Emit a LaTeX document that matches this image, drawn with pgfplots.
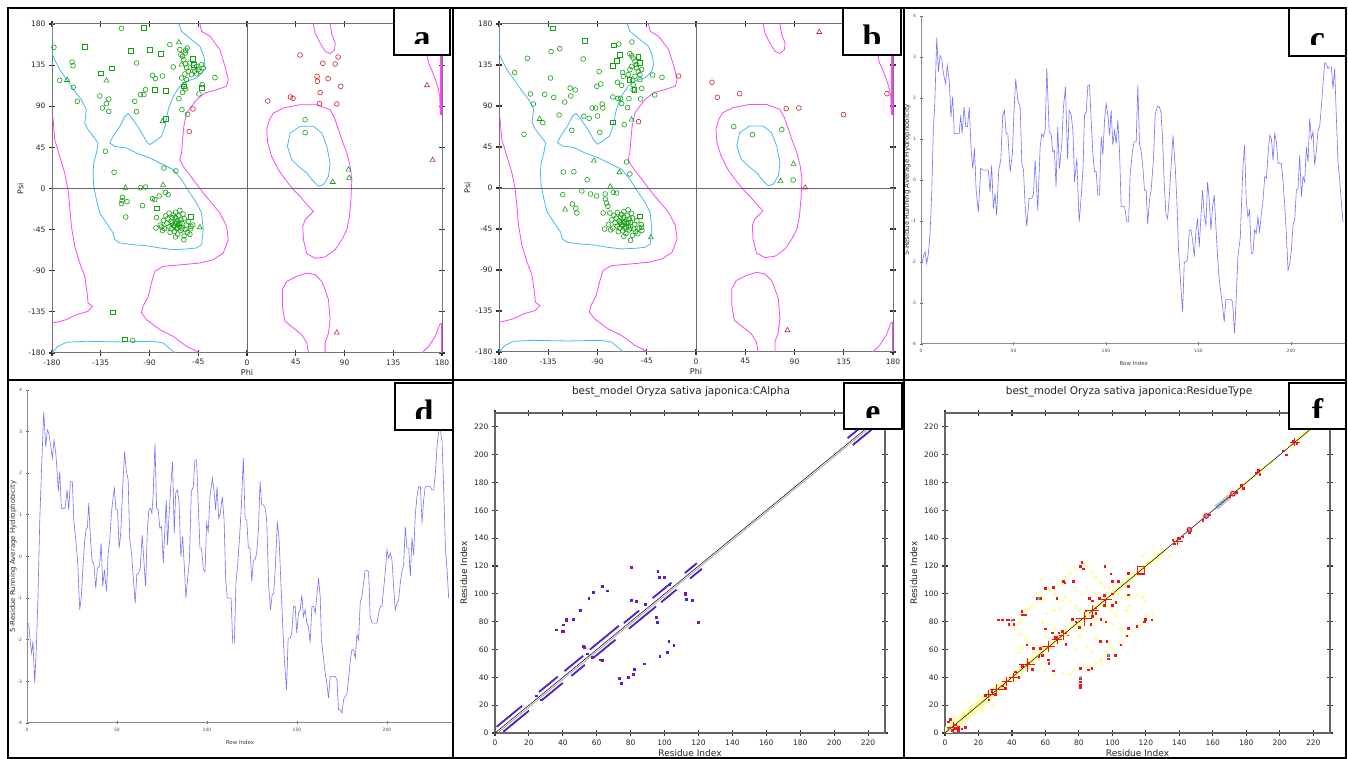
\documentclass[border=0pt]{standalone}
\usepackage{pgfplots}
\pgfplotsset{compat=1.18}
\usepackage{fontspec}
\setmainfont{DejaVu Sans}
\newfontfamily\serifb{Liberation Serif}
\definecolor{rpink}{RGB}{250,70,250}
\definecolor{rcyan}{RGB}{70,185,240}
\definecolor{rgreen}{RGB}{20,160,20}
\definecolor{rred}{RGB}{200,40,40}
\definecolor{hline}{RGB}{115,115,255}
\definecolor{cblue}{RGB}{50,40,240}
\definecolor{cpurp}{RGB}{140,20,140}
\definecolor{fyel}{RGB}{255,255,170}
\definecolor{fred}{RGB}{240,20,20}
\definecolor{fblue}{RGB}{80,160,230}
\pgfplotsset{
 rama/.style={scale only axis, xmin=-180,xmax=180,ymin=-180,ymax=180,
  xtick={-180,-135,...,180}, ytick={-180,-135,...,180},
  tick align=center, major tick length=6pt,
  axis line style={black!55, line width=1pt},
  tick style={black!80, line width=1.1pt},
  /pgf/number format/assume math mode=true,
  ticklabel style={font=\fontsize{7.5}{8}\selectfont, text=black!85},
  xlabel={Phi}, ylabel={Psi},
  label style={font=\fontsize{8}{9}\selectfont, text=black!85},
  xlabel style={yshift=3pt}, ylabel style={yshift=-2pt}},
 hydro/.style={scale only axis, xmin=0, ymin=-4, ymax=4,
  axis x line*=bottom, axis y line*=left,
  xtick={0,50,...,200}, ytick={-4,...,4},
  tick align=center, major tick length=3pt,
  axis line style={black!45, line width=1pt},
  tick style={black!60, line width=0.8pt},
  /pgf/number format/assume math mode=true,
  ticklabel style={font=\fontsize{4.5}{5}\selectfont, text=black!70},
  xlabel={Row Index}, ylabel={5-Residue Running Average Hydrophobicity},
  xlabel style={font=\fontsize{5.5}{6}\selectfont, text=black!75, yshift=-2pt},
  ylabel style={font=\fontsize{7}{8}\selectfont, text=black!80, yshift=-6pt}},
 cmap/.style={scale only axis, xmin=0,xmax=230,ymin=0,ymax=230,
  xtick={0,20,...,220}, ytick={0,20,...,220},
  tick align=center, major tick length=6pt,
  axis line style={black!60, line width=1.2pt},
  tick style={black!80, line width=1.1pt},
  /pgf/number format/assume math mode=true,
  ticklabel style={font=\fontsize{7.5}{8}\selectfont, text=black!85},
  xlabel={Residue Index}, ylabel={Residue Index},
  label style={font=\fontsize{9}{10}\selectfont, text=black!85},
  xlabel style={yshift=2pt}},
 gc/.style={only marks, mark=o, mark size=2.4pt, rgreen, mark options={line width=0.6pt}},
 gs/.style={only marks, mark=square, mark size=2.4pt, rgreen, mark options={line width=0.6pt}},
 gt/.style={only marks, mark=triangle, mark size=2.9pt, rgreen, mark options={line width=0.6pt}},
 rc/.style={only marks, mark=o, mark size=2.4pt, rred, mark options={line width=0.6pt}},
 rt/.style={only marks, mark=triangle, mark size=2.9pt, rred, mark options={line width=0.6pt}},
}
\newcommand\ramabg{%
 \addplot[rcyan, line width=0.8pt] coordinates {(-180,180) (-180,148.3) (-177.5,141) (-172.9,130) (-165.2,117.3) (-159,106.3) (-152.9,97.2) (-148.3,86.3) (-149.8,71.7) (-146.7,64.4) (-142.1,57.1) (-137.5,49.8) (-139,38.8) (-141.5,27.9) (-142.1,17) (-141.5,2.4) (-139,-12.2) (-135.9,-26.8) (-129.8,-37.7) (-123.6,-48.7) (-122.1,-56) (-117.4,-59.6) (-105.1,-61.5) (-92.8,-62.6) (-80.4,-65.1) (-68.1,-66.9) (-55.8,-66.2) (-46.5,-65.1) (-41.9,-61.5) (-40.4,-45) (-41.9,-26.8) (-46.5,-15.9) (-52.7,-4.9) (-60.4,9.7) (-68.1,20.6) (-77.4,26.1) (-89.7,33.4) (-102,38.8) (-111.3,44.3) (-122.1,46.1) (-126.7,49.8) (-123.6,57.1) (-117.4,68) (-112.8,79) (-109.7,81.9) (-105.1,75.3) (-98.9,64.4) (-92.8,51.6) (-89.7,48) (-85.1,51.6) (-78.9,57.1) (-75.8,68) (-72.7,86.3) (-68.1,100.9) (-62,111.8) (-55.8,117.3) (-46.5,120.9) (-40.4,128.2) (-38.8,135.5) (-39.8,144.6) (-43.5,155.6) (-51.2,162.9) (-60.4,172) (-62.9,180)};
 \addplot[rcyan, line width=0.8pt] coordinates {(-180,-180) (-174.5,-172.7) (-166.7,-168.3) (-148.3,-167.2) (-117.4,-167.9) (-86.6,-167.2) (-77.4,-169.1) (-68.1,-178.2) (-66.6,-180)};
 \addplot[rcyan, line width=0.8pt] coordinates {(49,68) (61.3,68) (69,60.7) (73.7,46.1) (76.7,27.9) (75.2,13.3) (70.6,4.2) (66,2.4) (61.3,7.8) (55.2,17) (47.5,24.3) (41.3,31.6) (37.3,46.1) (39.8,60.7) (49,68)};
 \addplot[rpink, line width=0.8pt] coordinates {(-43.5,180) (-41.9,172) (-34.2,166.5) (-25,151.9) (-20.3,133.7) (-17.3,119.1) (-18.8,111.8) (-28,108.1) (-38.8,104.5) (-46.5,97.2) (-51.2,89.9) (-55.8,82.6) (-58.3,68) (-59.5,53.4) (-60.4,38.8) (-62,31.6) (-58.9,24.3) (-49.6,9.7) (-40.4,-4.9) (-32.7,-15.9) (-25,-26.8) (-18.8,-41.4) (-17.3,-56) (-21.9,-70.6) (-31.1,-77.9) (-43.5,-81.5) (-58.9,-83.3) (-77.4,-85.2) (-85.1,-90.6) (-88.2,-103.4) (-91.2,-118) (-95.9,-128.9) (-97.4,-136.2) (-92.8,-143.5) (-80.4,-154.5) (-68.1,-161.8) (-55.8,-172.7) (-43.5,-180)};
 \addplot[rpink, line width=0.8pt] coordinates {(-179.1,77.1) (-177.5,53.4) (-172.9,35.2) (-168.3,17) (-165.2,-1.3) (-163.7,-19.5) (-162.1,-41.4) (-159,-63.3) (-154.4,-81.5) (-149.8,-96.1) (-147.6,-114.3) (-146.7,-125.3) (-142.7,-128.9) (-146.7,-134.4) (-157.5,-138.1) (-166.7,-143.5) (-176,-146.4) (-180,-147.2)};
 \addplot[rpink, line width=0.8pt] coordinates {(61.3,180) (62.9,170.2) (67.5,159.2) (72.1,150.1) (76.7,147.5) (80.8,151.9) (81.4,159.2) (78.3,168.3) (76.7,180)};
 \addplot[rpink, line width=0.8pt] coordinates {(24.4,82.6) (33.6,88.1) (49,91.7) (64.4,91.7) (76.7,86.3) (80.8,77.1) (84.5,64.4) (87.5,53.4) (92.2,38.8) (95.2,24.3) (96.8,9.7) (95.9,-12.2) (94.6,-30.5) (92.2,-45) (87.5,-56) (81.4,-66.9) (72.1,-74.9) (62.9,-76.4) (55.2,-71.3) (52.1,-56) (51.5,-41.4) (53.6,-34.1) (61.3,-25) (56.7,-19.5) (49,-8.6) (42.8,-1.3) (36.7,7.8) (29,20.6) (22.8,35.2) (19.1,49.8) (18.2,64.4) (20.7,75.3) (24.4,82.6)};
 \addplot[rpink, line width=0.8pt] coordinates {(56.7,-180) (55.2,-169.1) (50.5,-159.9) (42.8,-152.6) (35.1,-145.3) (32.7,-128.9) (32.7,-110.7) (36.7,-101.6) (45.9,-96.1) (55.2,-92.5) (62.9,-94.3) (69,-101.6) (72.1,-110.7) (75.2,-121.6) (76.7,-143.5) (75.2,-158.1) (72.1,-169.1) (72.1,-180)};
 \addplot[rpink, line width=0.8pt] coordinates {(165.5,148.3) (167.7,137.3) (172.3,124.6) (176,111.8) (177.9,100.9) (178.5,80.8)};
 \addplot[rpink, line width=1.6pt] coordinates {(179.3,148) (179.3,80)};
 \addplot[rpink, line width=0.8pt] coordinates {(161.5,-180) (167.7,-172.7) (173.8,-161.8) (177.8,-149) (179.1,-147.2)};
 \addplot[rpink, line width=1.6pt] coordinates {(179.4,-147) (179.4,-180)};
 \addplot[black!60, line width=0.9pt] coordinates {(0,-180) (0,180)};
 \addplot[black!60, line width=0.9pt] coordinates {(-180,0) (180,0)};
}
\newcommand\alphaclust{%
 \addplot[gc] coordinates {(-66,-38) (-64,-35) (-68,-40) (-62,-42) (-70,-36) (-60,-38) (-65,-44) (-72,-42) (-58,-33) (-63,-30) (-67,-47) (-61,-46) (-69,-32) (-74,-38) (-56,-40) (-64,-50) (-71,-48) (-59,-28) (-66,-26) (-76,-44) (-54,-36) (-62,-38) (-67,-41) (-64,-43) (-70,-44) (-57,-45) (-73,-33) (-68,-29) (-61,-34) (-65,-37) (-63,-39) (-69,-38) (-66,-32) (-60,-44) (-77,-35) (-78,-46) (-55,-48) (-52,-44) (-80,-40) (-72,-27) (-58,-52) (-66,-53) (-62,-24) (-75,-30) (-50,-40)};
}
% box: x1 y1 x2 y2 letter  (baseline at y1+6pt, lower part hidden below y1+11pt)
\newcommand\lettbox[5]{%
 \fill[white] (#1pt,#2pt) rectangle (#3pt,#4pt);
 \begin{scope}
 \clip (#1pt,#2pt+11pt) rectangle (#3pt,#4pt);
 \node[anchor=base, font=\serifb\bfseries\fontsize{34}{34}\selectfont, inner sep=0pt] at ({(#1+#3)/2*1pt}, {#2pt+6pt}) {#5};
 \end{scope}
 \draw[black, line width=1.6pt] (#1pt,#2pt) rectangle (#3pt,#4pt);
}
\begin{document}
\begin{tikzpicture}
\useasboundingbox (0,0) rectangle (1348pt,759pt);
\clip (0,0) rectangle (1348pt,759pt);
\fill[white] (0,0) rectangle (1348pt,759pt);

% ---------------- panel a
\begin{axis}[rama, at={(52pt,406pt)}, anchor=south west, width=390pt, height=329pt]
\ramabg
\addplot[gc] coordinates {(-178.2,154.5) (-115.9,175.3) (-71.2,157.4) (-56.7,151.2) (-161.5,138.4) (-160.6,134.4) (-102.0,137.3) (-172.9,118.4) (-160.3,110.7) (-156.6,95.4) (-135.9,101.2) (-127.6,97.9) (-129.8,92.8) (-133.5,88.1) (-127.6,84.4) (-103.6,95.4) (-102.0,84.1) (-93.7,108.1) (-98.3,102.7) (-95.2,102.7) (-87.2,123.8) (-84.5,120.2) (-78.0,123.1) (-68.1,133.0) (-62.9,98.3) (-60.1,86.3) (-54.9,81.2) (-44.4,103.4) (-41.3,113.6) (-41.9,135.5) (-40.4,131.8) (-29.6,121.3) (-130.7,40.7) (-122.7,17.7) (-76.8,22.4) (-65.7,19.2) (-98.3,0.9) (-93.7,1.6) (-75.2,-4.2) (-72.7,-6.7) (-115.0,-9.7) (-115.3,-13.3) (-110.7,-14.4) (-115.9,-16.6) (-96.5,-18.8) (-87.2,-11.1) (-85.1,-12.2) (-81.1,-8.2) (-111.9,-31.2) (-83.5,-31.9) (-84.1,-43.2) (-78.9,-42.1) (-58.3,-56.0) (-52.7,-50.1) (-51.8,-41.4) (53.6,75.3) (53.6,61.1) (-105.4,-166.1)
 (-61.0,146.4) (-59.5,144.6) (-58.3,140.9) (-56.7,136.6) (-55.8,131.9) (-54.2,128.2) (-52.7,137.3) (-49.6,131.9) (-48.1,128.2) (-46.5,133.7) (-45.0,130.0) (-51.2,124.6) (-55.8,119.1) (-58.0,113.6) (-56.7,108.9) (-59.5,105.2) (-57.3,125.3) (-60.4,120.9) (-46.5,125.6) (-43.5,128.2) (-57.0,148.3) (-62.0,151.9) (-55.2,153.7)};
\alphaclust
\addplot[gs] coordinates {(-94.9,175.6) (-149.8,155.2) (-107.3,150.5) (-90.0,151.6) (-79.5,147.5) (-124.5,131.5) (-135.3,126.0) (-84.8,107.8) (-75.2,106.7) (-74.9,76.4) (-50.2,141.7) (-49.3,135.5) (-41.9,110.3) (-58.3,111.8) (-83.5,-21.7) (-51.8,-30.8) (-124.2,-135.5) (-112.8,-165.0)};
\addplot[gt] coordinates {(-62.9,159.9) (-129.8,118.0) (-166.1,118.7) (-78.0,73.5) (-112.2,0.8) (-77.4,3.9) (-43.5,-42.5) (93.7,20.6) (94.3,11.5) (79.2,7.1) (-60.4,135.5)};
\addplot[rc] coordinates {(49.0,146.1) (84.1,143.9) (70.0,137.0) (81.4,136.2) (64.7,122.7) (65.0,117.3) (74.9,120.2) (67.5,104.9) (86.6,111.8) (19.1,95.7) (40.1,100.1) (42.5,98.7) (66.9,92.8) (82.9,92.5) (-49.9,87.0) (-53.3,62.2)};
\addplot[rt] coordinates {(166.1,112.9) (171.4,31.2) (82.9,-157.8)};
\end{axis}

% ---------------- panel b
\begin{axis}[rama, at={(499pt,407pt)}, anchor=south west, width=394pt, height=328pt]
\ramabg
\addplot[gc] coordinates {(-165.7,126.6) (-154.1,142.3) (-151.3,103.2) (-148.6,92.2) (-157.1,58.9) (-132.4,149.6) (-124.5,152.9) (-133.0,120.7) (-138.2,102.8) (-130.0,99.5) (-119.9,94.4) (-115.0,109.7) (-114.4,101.0) (-110.4,107.6) (-103.1,141.6) (-102.5,78.7) (-97.6,76.5) (-94.9,87.8) (-91.8,87.8) (-90.6,111.6) (-87.0,114.1) (-88.5,127.7) (-85.7,92.2) (-85.1,87.8) (-90.0,79.0) (-87.9,61.1) (-125.1,80.1) (-113.5,63.3) (-140.0,71.7) (-70.5,158.0) (-58.6,160.2) (-76.0,99.9) (-71.4,98.4) (-68.9,98.4) (-71.7,116.0) (-67.1,126.9) (-66.5,122.6) (-68.0,112.7) (-68.0,92.6) (-62.5,88.2) (-61.3,98.1) (-65.6,69.5) (-57.4,107.9) (-49.7,109.4) (-50.6,97.7) (-37.8,102.1) (-39.6,124.0) (-31.1,121.5) (-63.5,28.5) (-60.4,15.4) (-121.1,17.6) (-111.6,17.9) (-99.5,9.1) (-104.3,-3.3) (-96.4,-6.6) (-90.9,-8.8) (-83.0,-6.6) (-75.6,-4.7) (-72.6,-5.5) (-121.7,-7.3) (-112.9,-17.5) (-109.8,-22.3) (-108.9,-27.4) (-82.7,-12.1) (-81.8,-16.5) (-80.5,-20.1) (-84.8,-27.4) (-78.7,-27.4) (-83.6,-45.0) (-59.8,-57.4) (-53.1,-50.1) (-49.7,-43.2) (-49.4,-46.5) (34.5,67.3) (51.6,58.5) (78.4,64.0) (88.8,8.8)
 (-60.4,147.4) (-58.9,145.2) (-57.4,142.7) (-55.8,139.0) (-58.9,133.5) (-54.3,131.7) (-52.8,128.1) (-51.3,124.4) (-55.8,122.6) (-57.9,118.2) (-49.7,129.9) (-54.3,135.4) (-60.4,129.9) (-61.9,124.4) (-51.3,118.9) (-57.4,113.4)};
\alphaclust
\addplot[gs] coordinates {(-130.6,175.2) (-101.6,161.7) (-75.0,156.6) (-69.3,146.3) (-72.6,139.7) (-75.7,133.9) (-61.0,118.9) (-52.8,143.8) (-51.3,137.2) (-76.3,72.1) (-51.6,-31.1) (-56.4,107.9)};
\addplot[gt] coordinates {(-142.8,75.7) (-93.3,30.0) (-69.9,17.2) (-58.9,75.0) (-78.4,1.5) (-119.6,-23.8) (-41.2,-54.2) (77.2,7.7) (89.1,26.4)};
\addplot[rc] coordinates {(-15.9,122.9) (14.6,116.0) (19.5,99.5) (39.9,103.5) (82.4,87.1) (93.9,87.8) (134.8,80.5) (174.5,103.5) (-52.5,72.8)};
\addplot[rt] coordinates {(112.6,171.2) (99.8,0.4) (83.6,-156.2)};
\end{axis}

% ---------------- panel c
\begin{axis}[hydro, at={(921pt,415pt)}, anchor=south west, width=425.5pt, height=328pt, xmax=230]
\addplot[hline, line width=0.6pt] table {
0.4 -2.04
1.3 -1.87
2.2 -1.75
3.1 -2.04
4.0 -1.79
4.9 -1.30
5.8 -0.33
6.7 1.30
7.4 1.78
8.5 3.47
9.4 2.64
10.3 3.04
11.2 2.96
12.1 2.60
13.3 2.35
14.2 2.80
15.3 2.39
16.2 1.54
17.1 2.03
18.0 1.13
19.3 1.13
20.6 1.13
21.5 1.58
22.2 1.13
23.3 1.78
24.2 1.30
25.1 1.30
26.1 1.77
27.1 0.73
28.0 0.28
28.9 0.77
29.8 -0.25
31.0 -0.78
32.3 0.28
33.4 0.24
34.6 0.24
36.4 0.24
37.3 -0.29
38.2 0.36
39.1 -0.70
40.0 -0.33
40.9 -0.86
42.0 0.24
43.1 0.48
44.2 1.58
45.1 1.70
46.0 1.13
46.9 1.13
48.2 0.20
49.4 0.65
50.3 1.70
51.2 2.47
52.3 1.95
53.6 1.78
54.5 0.40
55.4 0.24
56.3 -0.65
57.2 -1.13
58.4 -0.45
59.9 -0.45
60.8 -0.33
61.7 0.48
63.1 -0.74
64.4 0.81
65.3 1.13
66.2 1.05
67.1 1.21
68.0 2.72
69.3 1.17
70.3 1.13
71.2 0.69
72.1 0.73
73.0 -0.17
73.9 1.30
74.8 0.28
76.1 0.89
77.0 1.78
78.1 2.27
79.2 0.52
80.1 1.70
81.2 1.58
82.1 1.21
83.0 -0.05
84.2 0.52
85.5 -1.02
86.6 -0.41
87.6 0.32
88.4 1.58
89.3 1.66
90.2 2.31
91.1 2.31
92.0 1.42
92.9 0.65
93.8 0.20
94.7 0.20
95.6 -0.37
96.5 -0.37
97.4 1.05
98.3 0.61
99.2 1.46
100.1 1.86
101.0 1.58
101.9 1.09
102.8 1.70
103.7 0.85
104.6 1.21
105.5 0.89
106.4 1.46
107.3 0.69
108.2 -0.65
109.1 -0.65
110.0 -0.65
111.3 -1.02
112.2 -1.02
113.1 0.16
114.3 0.69
115.2 0.93
116.3 0.93
117.2 2.31
118.1 0.89
119.0 0.69
119.9 0.32
120.8 -0.25
121.7 -0.25
122.5 -1.08
123.5 -0.49
124.4 -0.25
125.7 0.56
126.6 1.62
127.9 1.80
128.8 1.78
129.7 1.66
130.6 0.97
131.5 -0.13
132.4 -0.82
133.3 -0.94
134.2 -0.41
135.1 0.28
136.2 1.09
137.4 0.32
138.3 -0.49
139.2 -1.71
140.7 -2.77
141.4 -3.21
142.3 -2.00
143.2 -2.00
144.1 -1.94
145.0 -1.22
145.9 -1.22
146.8 -1.47
147.7 -1.87
148.6 -1.26
149.5 -0.94
150.4 -1.63
151.3 -0.90
152.2 -0.25
153.1 -0.86
154.0 -1.10
154.9 -0.05
155.8 -0.49
156.7 -1.22
157.6 -0.65
158.5 -0.37
159.4 -1.14
160.3 -1.87
161.2 -2.44
162.1 -2.77
163.0 -3.09
163.9 -3.46
164.8 -2.91
166.3 -2.91
167.5 -2.91
168.4 -2.97
169.5 -3.74
170.4 -2.85
171.3 -1.87
172.6 -1.39
174.0 0.32
174.9 0.85
175.8 -0.49
176.7 -0.90
177.6 -0.74
178.5 -1.79
179.4 -1.79
180.3 -1.22
181.2 -1.30
182.1 -0.90
183.0 -1.26
183.9 -0.86
184.8 -0.53
185.8 0.08
186.7 0.04
187.6 0.65
188.5 1.09
189.4 1.01
190.3 0.48
191.2 1.13
192.1 0.93
193.0 0.40
193.9 0.42
194.8 0.40
195.7 -0.05
196.6 -0.61
197.5 -1.35
198.4 -2.20
199.3 -2.04
200.2 -1.71
201.1 -1.10
202.0 -0.98
202.9 -0.25
203.8 -0.21
204.7 0.61
205.6 -0.41
206.5 0.08
207.4 -0.05
208.3 0.81
209.2 0.44
210.1 1.50
211.0 1.01
211.9 1.17
212.8 0.36
213.7 0.73
214.6 1.21
215.5 1.30
216.4 1.78
217.3 2.35
218.2 2.86
219.1 2.84
220.0 2.72
220.9 2.76
221.8 2.76
222.7 2.23
223.6 2.72
224.5 1.54
225.4 0.44
226.3 0.00
227.2 -0.53
228.1 -1.02
};
\end{axis}

% ---------------- panel d
\begin{axis}[hydro, at={(27pt,36pt)}, anchor=south west, width=426pt, height=333pt, xmax=236.7]
\addplot[hline, line width=0.6pt] table {
0.9 -1.60
1.9 -2.08
2.6 -2.32
3.3 -2.04
4.3 -3.04
5.2 -2.16
6.1 -0.96
7.1 0.88
8.0 2.00
9.3 3.48
10.4 2.64
11.3 3.04
12.2 2.96
13.2 2.64
14.1 2.36
15.0 2.80
16.0 2.48
16.9 1.92
17.4 1.56
18.2 2.04
19.1 1.16
20.0 1.16
21.2 1.16
22.3 1.60
23.2 1.12
24.1 1.80
25.2 1.80
26.0 0.88
27.1 0.40
28.2 -0.16
29.3 -1.28
30.2 -0.96
31.2 -0.16
32.1 0.40
32.8 0.64
33.6 0.72
34.3 1.28
35.3 0.40
36.2 -0.12
37.1 -0.16
38.2 -0.76
39.1 -0.28
40.3 -0.24
41.2 0.32
42.1 -0.72
43.0 -0.32
44.2 -0.84
45.1 0.08
46.0 0.40
46.9 1.04
47.9 1.44
48.6 1.64
49.4 1.12
50.3 1.12
51.2 0.20
52.1 0.56
53.1 1.60
54.2 2.52
55.1 2.08
56.2 1.84
57.1 0.40
58.1 0.08
59.0 -0.48
60.1 -1.12
61.0 -0.44
62.0 -0.40
62.9 -0.28
64.0 0.52
64.9 -0.08
65.9 -0.72
66.8 0.56
67.7 1.12
68.6 1.16
69.4 1.04
70.1 1.48
71.1 2.72
72.0 1.16
72.9 1.12
73.8 0.68
74.8 0.72
75.7 -0.16
76.6 0.64
77.4 1.36
78.1 0.28
79.0 1.04
80.0 1.76
80.9 2.28
81.8 0.56
82.6 1.52
83.5 1.60
84.4 1.36
85.5 0.00
86.5 0.48
87.4 -0.24
88.3 -1.00
89.2 -0.56
90.2 -0.12
91.3 1.56
92.4 1.68
93.3 2.32
94.2 2.32
95.2 1.20
96.1 0.20
97.0 0.20
98.0 -0.32
98.9 -0.36
99.8 0.80
100.7 0.60
101.7 1.44
103.0 1.88
103.9 1.60
104.8 1.12
105.6 1.68
106.5 0.92
107.4 1.04
108.5 1.44
109.5 0.88
110.4 -0.56
111.3 -1.00
112.4 -1.00
113.4 -1.00
114.3 -2.08
115.2 -2.08
116.1 -0.64
117.1 -0.16
118.0 0.40
118.9 1.04
120.2 2.36
121.2 0.88
122.1 0.88
123.0 0.20
123.9 0.20
124.9 -0.60
125.8 -0.08
126.7 -0.08
127.6 0.08
128.6 0.64
129.5 1.80
130.4 1.24
131.4 1.24
132.3 1.16
133.2 0.88
134.3 -0.72
135.3 -1.28
136.2 -0.92
137.1 -0.88
138.0 -0.24
139.1 0.84
140.1 0.40
141.0 -0.56
142.1 -1.68
143.0 -2.48
144.2 -3.20
145.1 -1.96
146.2 -1.96
147.1 -1.84
148.1 -1.20
149.0 -1.20
149.9 -1.84
150.8 -1.36
151.8 -1.28
152.7 -0.92
153.6 -1.44
154.5 -1.28
155.5 -1.60
156.4 -1.68
157.3 -2.08
158.3 -1.20
159.2 -1.20
160.1 -1.36
161.0 -0.96
162.0 -0.52
162.9 -0.96
163.6 -2.00
164.7 -2.44
165.7 -2.80
166.6 -3.04
167.5 -3.40
168.5 -2.88
169.9 -2.88
171.2 -2.88
172.2 -2.96
173.1 -3.68
174.0 -3.68
175.0 -3.76
175.9 -3.44
176.8 -3.36
177.7 -3.32
178.7 -2.92
179.6 -2.52
180.5 -2.24
181.4 -2.24
182.4 -2.44
183.3 -1.88
184.2 -2.00
185.2 -1.08
186.1 -0.96
187.0 -0.64
187.9 -0.34
188.9 -0.34
189.8 -0.36
190.7 -1.44
191.7 -1.60
192.6 -1.60
193.5 -1.60
194.4 -1.60
195.4 -1.36
196.3 -1.20
197.2 -1.20
198.1 -0.80
199.1 -0.36
200.0 0.16
200.9 -0.04
201.9 0.08
202.8 -0.08
203.7 -0.72
204.6 -1.28
205.6 -1.12
206.5 -1.04
207.4 -0.64
208.3 -0.36
209.3 -0.20
210.2 0.72
211.1 0.20
212.1 0.20
213.0 -0.48
213.9 0.44
214.8 0.04
215.8 1.04
216.7 1.44
217.6 1.68
218.6 1.68
219.5 0.80
220.4 1.36
221.3 1.68
222.3 1.68
224.1 1.68
225.0 1.60
226.0 1.60
226.9 2.00
227.8 2.64
228.8 3.04
229.7 3.04
230.6 2.76
231.5 1.68
232.5 0.16
233.4 -0.32
234.3 -1.00
};
\end{axis}

% ---------------- panel e
\begin{axis}[cmap, at={(495pt,26pt)}, anchor=south west, width=390pt, height=320pt, unbounded coords=jump]
\addplot[black!55, line width=0.4pt] coordinates {(1.5,0) (230,228.5)};
\addplot[black, line width=0.5pt] coordinates {(0,0) (230,230)};
\addplot[cblue, line width=1.8pt] coordinates {(1,4.5) (16,19.5) (nan,nan) (26,29.5) (37,40.5) (nan,nan) (41,44.5) (52,55.5) (nan,nan) (56,60) (73,77) (nan,nan) (76,79) (85,88) (nan,nan) (93,97) (104,108) (nan,nan) (112,115) (119,122) (nan,nan) (208,212) (220,224)};
\addplot[cblue, line width=1.8pt] coordinates {(5,1) (20,16) (nan,nan) (28,24) (40,36) (nan,nan) (45,41) (53,49) (nan,nan) (58,54) (71,67) (nan,nan) (79,75) (95,91) (nan,nan) (98,94) (107,103) (nan,nan) (115,111) (122,118) (nan,nan) (211,207) (223,219)};
\addplot[cpurp, line width=1.1pt, dash pattern=on 1.6pt off 1.4pt] coordinates {(1,4.5) (16,19.5) (nan,nan) (26,29.5) (37,40.5) (nan,nan) (41,44.5) (52,55.5) (nan,nan) (56,60) (73,77) (nan,nan) (76,79) (85,88) (nan,nan) (93,97) (104,108) (nan,nan) (112,115) (119,122) (nan,nan) (208,212) (220,224)};
\addplot[cpurp, line width=1.1pt, dash pattern=on 1.6pt off 1.4pt] coordinates {(5,1) (20,16) (nan,nan) (28,24) (40,36) (nan,nan) (45,41) (53,49) (nan,nan) (58,54) (71,67) (nan,nan) (79,75) (95,91) (nan,nan) (98,94) (107,103) (nan,nan) (115,111) (122,118) (nan,nan) (211,207) (223,219)};
\addplot[only marks, mark=square*, mark size=0.9pt, cblue] coordinates {(39.4,73.1) (42.0,82.0) (46.3,82.0) (40.0,77.9) (50.2,88.2) (55.2,97.1) (58.1,101.4) (63.0,105.4) (66.4,102.3) (54.2,57.0) (61.7,52.7) (80.4,95.4) (95.9,116.2) (96.9,112.1) (102.8,106.6) (112.3,99.9) (112.7,96.3) (116.4,95.4) (95.5,79.8) (74.3,35.9) (78.4,40.0) (82.3,46.0) (88.2,49.8) (97.1,55.1) (101.4,58.0) (102.4,65.9) (105.4,63.0) (88.8,92.7) (24.2,26.8) (27.2,24.0)};
\addplot[only marks, mark=square*, mark size=0.9pt, cpurp] coordinates {(36.0,74.3) (40.4,73.1) (42.0,81.0) (52.2,62.3) (52.8,61.8) (57.1,54.4) (63.0,52.2) (80.4,119.1) (83.3,94.7) (99.9,112.1) (94.9,83.2) (119.6,79.8) (73.3,39.5) (81.3,42.2) (112.3,100.5)};
\end{axis}

% ---------------- panel f
\begin{axis}[cmap, at={(945pt,26pt)}, anchor=south west, width=385pt, height=320pt, unbounded coords=jump]
\addplot[fyel, line width=9pt] coordinates {(0,0) (35,35)};
\addplot[fyel, line width=6pt] coordinates {(35,35) (72,72)};
\addplot[fyel, line width=5pt] coordinates {(72,72) (132,132)};
\addplot[fyel, line width=3pt] coordinates {(175,175) (196,196)};
\addplot[fyel, line width=4pt] coordinates {(205,205) (228,228)};
\addplot[only marks, mark=square*, mark size=1.1pt, fyel] coordinates {(45,85) (48,88) (50,90) (52,92) (55,95) (55,100) (58,98) (60,96) (62,103) (65,100) (67,107) (70,108) (72,112) (75,115) (78,118) (83,122) (85,120) (88,116) (90,112) (93,108) (95,105) (98,104) (100,102) (103,100) (106,98) (110,98) (114,100) (118,98) (120,95) (45,80) (40,82) (38,78) (42,75) (45,72) (48,68) (50,65) (55,63) (46,62) (44,58) (52,58) (57,50) (60,45) (65,42) (70,43) (75,42) (78,45) (85,48) (90,50) (93,52) (96,58) (100,60) (98,64) (104,66) (108,70) (112,74) (116,78) (120,84) (124,86) (105,75) (100,78) (95,82) (90,82) (88,78) (85,85) (80,88) (78,92) (75,95) (72,98) (70,95) (68,90) (65,88) (60,86) (58,80) (62,78) (92,96) (96,92) (98,88) (102,85) (108,88) (110,92) (80,70) (82,75) (90,68) (85,62) (60,70) (65,75) (72,70) (78,60) (88,58) (58,110) (85,104) (95,98) (90,100) (82,100) (78,102) (14,22) (20,28) (22,16) (28,20) (118,128) (124,132) (134,128)};
\addplot[gray!45, line width=5pt] coordinates {(162,162) (170,170)};
\addplot[black, line width=0.5pt] coordinates {(0,0) (230,230)};
\addplot[fred, line width=0.9pt] coordinates {(78,82) (88,82) (nan,nan) (83,77) (83,87) (nan,nan) (84,88) (92,88) (nan,nan) (88,84) (88,92) (nan,nan) (92,96) (100,96) (nan,nan) (96,92) (96,100) (nan,nan) (58,62) (66,62) (nan,nan) (62,58) (62,66) (nan,nan) (64,67) (70,67) (nan,nan) (67,64) (67,70) (nan,nan) (68,70) (74,70) (nan,nan) (71,67) (71,73) (nan,nan) (44,49) (54,49) (nan,nan) (49,44) (49,54) (nan,nan) (38,40) (44,40) (nan,nan) (41,37) (41,43) (nan,nan) (34,37) (40,37) (nan,nan) (37,34) (37,40) (nan,nan) (27,31) (35,31) (nan,nan) (31,27) (31,35) (nan,nan) (23,28) (29,28) (nan,nan) (26,25) (26,31) (nan,nan) (1,4) (9,4) (nan,nan) (5,0) (5,8) (nan,nan) (206,209) (212,209) (nan,nan) (209,206) (209,212) (nan,nan) (136,138) (142,138) (nan,nan) (139,135) (139,141)};
\addplot[only marks, mark=square*, mark size=0.8pt, fred] coordinates {(31.9,81.5) (34,81.5) (36.8,81.5) (38,81.5) (40.8,81.5) (38,78) (41,78) (80.6,119.8) (81.6,122.7) (82.5,118) (70.7,109) (71.5,108) (76.6,109) (95.4,119.8) (99,114.5) (99.7,109) (103.5,109) (109.5,115) (109.5,105.4) (109.5,99.4) (114.5,76.7) (119.5,82) (123.4,81.5) (119,80) (108.5,70) (109.5,75.5) (104.9,63.5) (92.6,65.9) (96.6,65.9) (97.6,55.8) (101.5,55.8) (97.6,53.5) (80.6,46.7) (85.6,45.5) (87.6,46.7) (80.6,39.5) (80.6,37) (80.6,34.7) (80.6,33) (64.7,44.8) (61.7,52.7) (62,50) (48.8,63.5) (52.8,61.1) (56.7,61.1) (45.8,87.5) (46,85) (48,85) (64.7,105) (66.7,97.1) (54.8,97.1) (57,97) (60,104) (86,97) (88,95) (92,97) (95,99) (100,100) (84,88) (90,90) (100,92) (102,94) (95,92) (88,84) (93,82) (96,80) (78,80) (76,82) (80,76) (87,78) (90,86) (60,75) (64,72) (66,69) (72,64) (68,72) (70,73) (72,72) (58,56) (56,55) (50,50) (46,48) (52,46) (42,44) (44,40) (36,32) (34,34) (30,28) (28,30) (26,24) (24,27) (142,141) (136,139) (140,140) (137,136) (146,144) (154,153) (158,157) (170,170) (174,173) (177,178) (178,176) (186,187) (188,186) (187,189) (202,203) (204,200) (208,210) (210,208) (8,2) (10,3) (2,8) (3,10) (6,6) (4,2) (6,3) (8,4) (12,4)};
\addplot[only marks, mark=square, mark size=3.6pt, fred, mark options={line width=1.4pt}] coordinates {(117,117)};
\addplot[only marks, mark=o, mark size=2.3pt, fred, mark options={line width=1.2pt}] coordinates {(146,146) (156,156) (172,172)};
\addplot[only marks, mark=*, mark size=1.2pt, fblue] coordinates {(165,165) (163,163) (2,3) (97.5,56) (81,40) (56,97) (146,146) (156,156) (40,81)};
\end{axis}

% titles for e, f
\node[font=\fontsize{10.5}{12}\selectfont, text=black!85] at (681pt,367pt) {best\_model Oryza sativa japonica:CAlpha};
\node[font=\fontsize{10.5}{12}\selectfont, text=black!85] at (1129pt,367pt) {best\_model Oryza sativa japonica:ResidueType};

% frames
\draw[black, line width=2.6pt] (8pt,1pt) rectangle (1346pt,751pt);
\draw[black, line width=2.6pt] (453pt,1pt) -- (453pt,751pt);
\draw[black, line width=2.6pt] (904pt,1pt) -- (904pt,751pt);
\draw[black, line width=2.6pt] (8pt,379pt) -- (1346pt,379pt);

% letter boxes
\lettbox{394}{704}{450}{751}{a}
\lettbox{843}{704}{901}{751}{b}
\lettbox{1289}{703}{1346}{751}{c}
\lettbox{395}{329}{453}{376}{d}
\lettbox{844}{330}{902}{376}{e}
\lettbox{1289}{330}{1346}{376}{f}
\end{tikzpicture}
\end{document}
